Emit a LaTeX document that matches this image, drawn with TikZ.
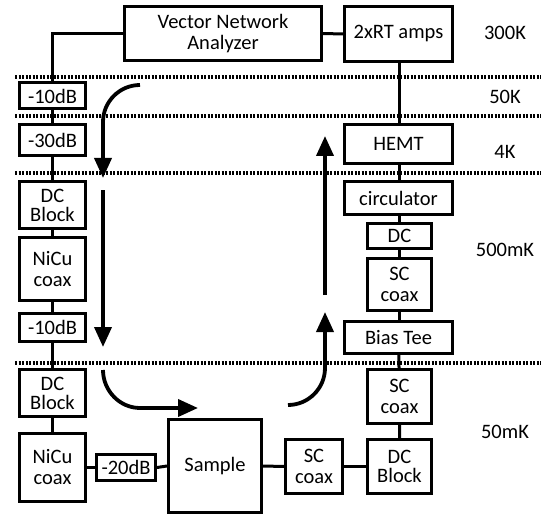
\documentclass[tikz,border=0pt]{standalone}
\usepackage{fontspec}
\setmainfont{Carlito}
\usetikzlibrary{arrows.meta}
\begin{document}
\begin{tikzpicture}[x=1pt,y=-1pt,
  box/.style={draw,line width=3pt,inner sep=0pt,align=center,font=\fontsize{20.5}{22}\selectfont},
  wire/.style={line width=3pt},
  sep/.style={line width=3.4pt,dash pattern=on 2.3pt off 1.2pt},
  flow/.style={line width=3.8pt,-{Triangle[width=17pt,length=20pt]}},
  temp/.style={font=\fontsize{20.5}{22}\selectfont}]
\useasboundingbox (0,0) rectangle (541,516);
% stage separators
\foreach \yy/\nm in {77/a,116/b,173/c,363/d}{
  \coordinate (s\nm l) at (15,\yy);
  \coordinate (s\nm r) at (541,\yy);
  \draw[sep] (s\nm l) -- (s\nm r);
}
% nodes
\node[box,minimum width=197,minimum height=54] (vna) at (223,33.5) {Vector Network\\[-1pt]Analyzer};
\node[box,minimum width=108,minimum height=55] (rt) at (398.5,34) {2xRT amps};
\node[box,minimum width=66,minimum height=26] (att1) at (52.5,96) {-10dB};
\node[box,minimum width=66,minimum height=31] (att2) at (52.5,140) {-30dB};
\node[box,minimum width=66,minimum height=47] (dc1) at (52.5,205) {DC\\[-3pt]Block};
\node[box,minimum width=66,minimum height=63] (nicu1) at (52.5,269) {NiCu\\[-1pt]coax};
\node[box,minimum width=66,minimum height=28] (att3) at (52.5,327.5) {-10dB};
\node[box,minimum width=66,minimum height=47] (dc2) at (52.5,393) {DC\\[-3pt]Block};
\node[box,minimum width=66,minimum height=68] (nicu2) at (52.5,467.5) {NiCu\\[-1pt]coax};
\node[box,minimum width=59,minimum height=26] (att4) at (126,467.5) {-20dB};
\node[box,minimum width=93,minimum height=93] (sample) at (215,466) {Sample};
\node[box,minimum width=57,minimum height=54] (sc3) at (314,466.5) {SC\\[-1pt]coax};
\node[box,minimum width=64,minimum height=54] (dcb) at (399.5,466.5) {DC\\[-3pt]Block};
\node[box,minimum width=64,minimum height=54] (sc2) at (399.5,396.5) {SC\\[-1pt]coax};
\node[box,minimum width=108,minimum height=32] (bias) at (398.5,337.5) {Bias Tee};
\node[box,minimum width=64,minimum height=52] (sc1) at (399.5,284.5) {SC\\[-1pt]coax};
\node[box,minimum width=64,minimum height=25] (dc) at (399.5,236) {DC};
\node[box,minimum width=108,minimum height=33] (circ) at (398.5,198) {circulator};
\node[box,minimum width=108,minimum height=39] (hemt) at (398.5,144) {HEMT};
% temperature labels
\node[temp] (t300) at (505,33) {300K};
\node[temp] (t50) at (505,97) {50K};
\node[temp] (t4) at (505,152) {4K};
\node[temp] (t500) at (505,250) {500mK};
\node[temp] (t50m) at (505,432) {50mK};
% wiring
\draw[wire] (vna.west) -| (att1.north);
\draw[wire] (att1) -- (att2) -- (dc1) -- (nicu1) -- (att3) -- (dc2) -- (nicu2);
\draw[wire] (nicu2.east) -- (att4.west);
\draw[wire] (att4.east) -- (sample.west);
\draw[wire] (sample.east) -- (sc3.west);
\draw[wire] (sc3.east) -- (dcb.west);
\draw[wire] (dcb) -- (sc2) -- (bias);
\draw[wire] (bias.north -| sc1) -- (sc1) -- (dc) -- (circ.south -| dc);
\draw[wire] (circ.north -| dc) -- (hemt.south -| dc);
\draw[wire] (hemt.north -| dc) -- (rt.south -| dc);
\draw[wire] (vna.east) -- (rt.west);
% signal flow arrows
\coordinate (f1a) at (140,85);
\coordinate (f1b) at (103,178);
\coordinate (f2a) at (103,190);
\coordinate (f2b) at (103,347);
\coordinate (f3a) at (103,370);
\coordinate (f3b) at (198,408);
\coordinate (f4a) at (288,405);
\coordinate (f4b) at (325,312);
\coordinate (f5a) at (325,295);
\coordinate (f5b) at (325,136);
\draw[flow] (f1a) .. controls (119.6,85) and (103,101.6) .. (103,122) -- (f1b);
\draw[flow] (f2a) -- (f2b);
\draw[flow] (f3a) .. controls (103,390.6) and (119.6,408) .. (140,408) -- (f3b);
\draw[flow] (f4a) .. controls (308.4,405) and (325,388.4) .. (325,368) -- (f4b);
\draw[flow] (f5a) -- (f5b);
\end{tikzpicture}
\end{document}
